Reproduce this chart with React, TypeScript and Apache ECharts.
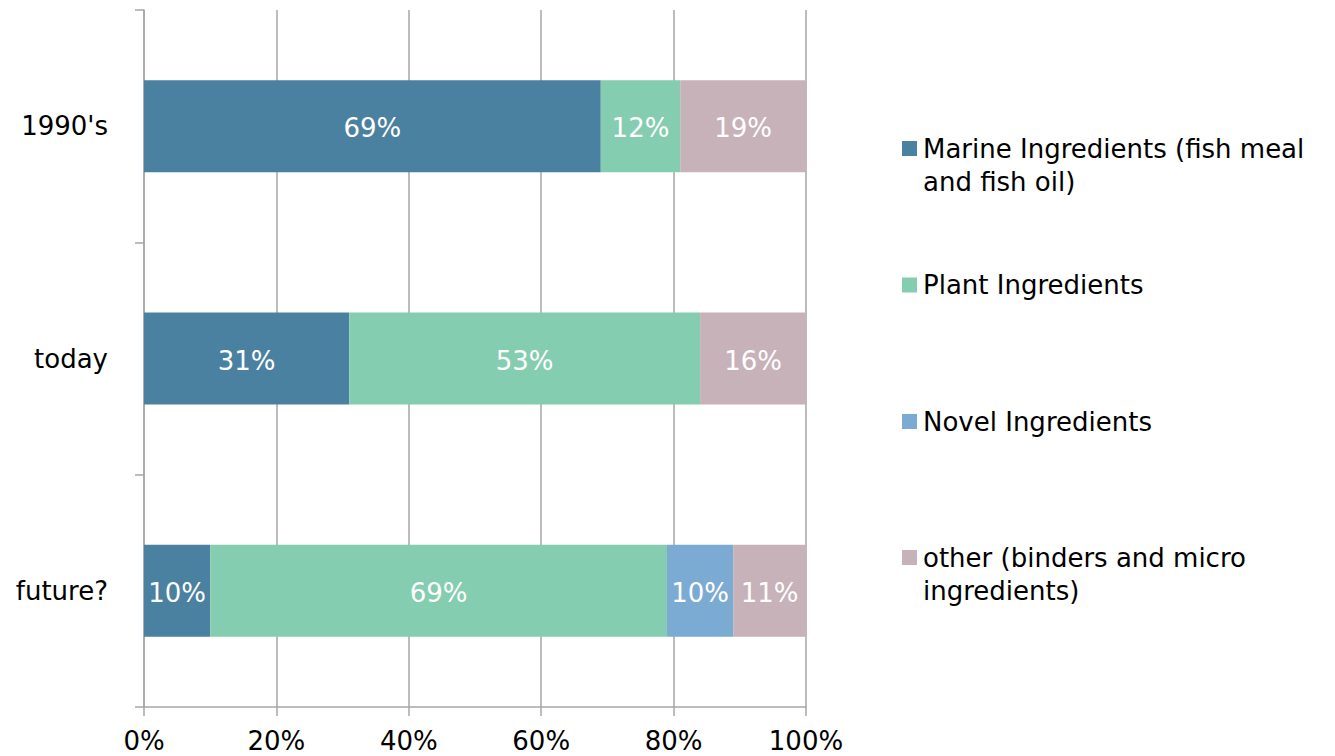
import React, { useEffect, useRef } from "react";
import * as echarts from "echarts";

const categories = ["1990's", "today", "future?"];
const seriesNames = [
  "Marine Ingredients (fish meal and fish oil)",
  "Plant Ingredients",
  "Novel Ingredients",
  "other (binders and micro ingredients)",
];
const legendLabels = [
  "Marine Ingredients (fish meal\nand fish oil)",
  "Plant Ingredients",
  "Novel Ingredients",
  "other (binders and micro\ningredients)",
];
const marine = [69, 31, 10];
const plant = [12, 53, 69];
const novel = [null, null, 10];
const other = [19, 16, 11];
const colors = ["#4A81A0", "#84CDB0", "#7BAAD2", "#C6B2B8"];
const xTicks = [0, 20, 40, 60, 80, 100];

const FONT = "DejaVu Sans";
const FS = 26;

export default function App() {
  const ref = useRef<HTMLDivElement>(null);
  useEffect(() => {
    if (!ref.current) return;
    const chart = echarts.init(ref.current, null, { renderer: "svg" });
    const values = [marine, plant, novel, other];
    const legendCenters = [148.5, 285, 421.5, 557.5];
    const graphic: any[] = [];
    legendLabels.forEach((lab, i) => {
      graphic.push({
        type: "rect",
        left: 902,
        top: legendCenters[i] - 7.5,
        shape: { width: 15, height: 15 },
        style: { fill: colors[i] },
      });
      graphic.push({
        type: "text",
        x: 923,
        y: legendCenters[i] - 16.5,
        style: {
          text: lab,
          font: `${FS}px "${FONT}"`,
          fill: "#000",
          lineHeight: 33,
          verticalAlign: "top",
          align: "left",
        },
      });
    });
    chart.setOption({
      animation: false,
      textStyle: { fontFamily: FONT },
      grid: { left: 144, top: 10, width: 662, height: 697, containLabel: false },
      xAxis: {
        type: "value",
        min: 0,
        max: 100,
        interval: 20,
        axisLine: { show: true, lineStyle: { color: "#A6A6A6", width: 1.5 } },
        axisTick: { show: true, length: 9, lineStyle: { color: "#A6A6A6", width: 1.5 } },
        splitLine: { show: true, lineStyle: { color: "#A6A6A6", width: 1.5 } },
        axisLabel: {
          formatter: (v: number) => (xTicks.includes(v) ? v + "%" : ""),
          fontSize: FS,
          color: "#000",
          margin: 21,
          fontFamily: FONT,
        },
      },
      yAxis: {
        type: "category",
        inverse: true,
        data: categories,
        axisLine: { show: true, lineStyle: { color: "#A6A6A6", width: 1.5 } },
        axisTick: { show: true, length: 9, lineStyle: { color: "#A6A6A6", width: 1.5 } },
        axisLabel: { fontSize: FS, color: "#000", margin: 36, fontFamily: FONT },
      },
      series: seriesNames.map((name, i) => ({
        name,
        type: "bar",
        stack: "total",
        barWidth: 92,
        data: values[i],
        itemStyle: { color: colors[i] },
        label: {
          show: true,
          position: "inside",
          formatter: "{c}%",
          color: "#fff",
          fontSize: FS,
          fontFamily: FONT,
          offset: [0, 2],
        },
      })),
      graphic,
    });
    return () => chart.dispose();
  }, []);
  return (
    <div
      ref={ref}
      style={{ position: "fixed", left: 0, top: 0, width: 1335, height: 756, background: "#fff" }}
    />
  );
}
